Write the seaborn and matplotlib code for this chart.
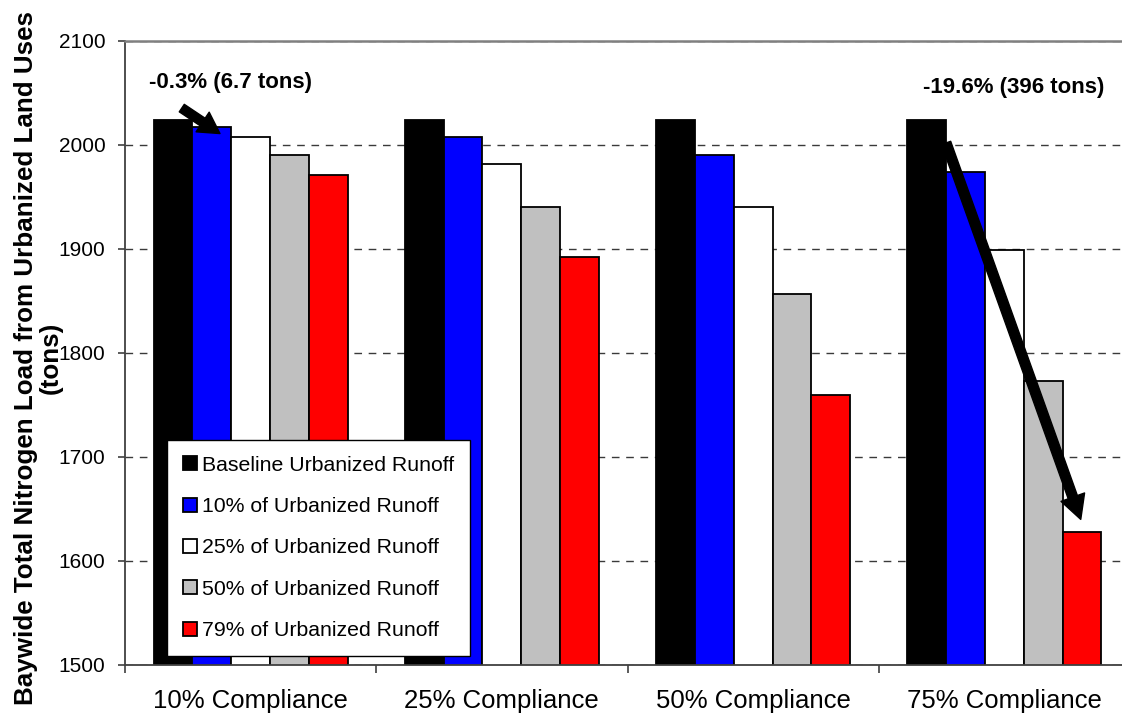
import matplotlib
matplotlib.use("Agg")
import matplotlib.pyplot as plt
import numpy as np
import pandas as pd
import seaborn as sns

# Baywide total nitrogen load (tons) under each runoff-treatment scenario
compliance = ["10% Compliance", "25% Compliance", "50% Compliance", "75% Compliance"]
scenarios = [
    "Baseline Urbanized Runoff",
    "10% of Urbanized Runoff",
    "25% of Urbanized Runoff",
    "50% of Urbanized Runoff",
    "79% of Urbanized Runoff",
]
baseline = [2024.0, 2024.0, 2024.0, 2024.0]
runoff_10 = [2017.3, 2007.3, 1990.6, 1973.9]
runoff_25 = [2007.3, 1982.2, 1940.4, 1898.7]
runoff_50 = [1990.6, 1940.4, 1856.9, 1773.3]
runoff_79 = [1971.2, 1892.0, 1760.0, 1628.0]
y_ticks = [1500, 1600, 1700, 1800, 1900, 2000, 2100]

bar_colors = ["#000000", "#0000FF", "#FFFFFF", "#C0C0C0", "#FF0000"]

series = [baseline, runoff_10, runoff_25, runoff_50, runoff_79]
df = pd.DataFrame(
    [(c, s, v) for s, vals in zip(scenarios, series) for c, v in zip(compliance, vals)],
    columns=["compliance", "scenario", "load"],
)

sns.set_style("white")
plt.rcParams["font.family"] = ["Liberation Sans", "DejaVu Sans"]
plt.rcParams.update({
    "text.color": "black",
    "axes.labelcolor": "black",
    "xtick.color": "black",
    "ytick.color": "black",
})

fig = plt.figure(figsize=(11.22, 7.19), dpi=100)
ax = fig.add_axes([125 / 1122, 1 - 665 / 719, 1005 / 1122, 624 / 719])

sns.barplot(
    data=df, x="compliance", y="load", hue="scenario",
    order=compliance, hue_order=scenarios, palette=bar_colors,
    saturation=1, width=0.772, edgecolor="black", linewidth=1.3,
    errorbar=None, ax=ax, zorder=2,
)

ax.set_ylim(1500, 2100)
ax.set_xlim(-0.5, 3.5)
ax.set_yticks(y_ticks)
ax.set_xlabel("")
ax.set_ylabel("")

# dashed horizontal gridlines behind the bars
ax.yaxis.grid(True, linestyle=(0, (5.5, 4.8)), color="#3a3a3a", linewidth=1.0)
ax.xaxis.grid(False)
ax.set_axisbelow(True)

for side in ("left", "bottom"):
    ax.spines[side].set_color("#404040")
    ax.spines[side].set_linewidth(1.3)
ax.spines["top"].set_color("#808080")
ax.spines["top"].set_linewidth(1.8)
ax.spines["right"].set_color("#808080")
ax.spines["right"].set_linewidth(1.8)

ax.tick_params(axis="y", direction="out", length=5, width=1.2, color="#404040",
               left=True, labelsize=15, pad=9, labelcolor="black")
ax.tick_params(axis="x", which="major", length=0, labelsize=18.5, pad=17,
               labelcolor="black")
ax.set_xticks(np.arange(-0.5, 3.6, 1.0), minor=True)
ax.tick_params(axis="x", which="minor", direction="out", length=6, width=1.2,
               color="#404040", bottom=True)

# legend box in the lower-left of the plot
leg = ax.legend(
    loc="lower left", bbox_to_anchor=(0.0418, 0.0144), fontsize=15.3,
    frameon=True, fancybox=False, framealpha=1, edgecolor="black",
    handlelength=0.65, handleheight=0.65, handletextpad=0.25,
    labelspacing=1.05, borderpad=0.75, borderaxespad=0,
)
leg.get_frame().set_linewidth(1.0)
for t in leg.get_texts():
    t.set_color("black")

# y-axis title
fig.text(38 / 1122, 1 - 358 / 719,
         "Baywide Total Nitrogen Load from Urbanized Land Uses\n(tons)",
         rotation=90, ha="center", va="center", multialignment="center",
         fontsize=18.7, fontweight="bold", linespacing=1.05, color="black")

# change labels computed from the plotted values
d_small = baseline[0] - runoff_10[0]
d_large = baseline[3] - runoff_79[3]
label_small = f"-{d_small / baseline[0] * 100:.1f}% ({d_small:.1f} tons)"
label_large = f"-{d_large / baseline[3] * 100:.1f}% ({d_large:.0f} tons)"

ax.text(-0.082, 2060, label_small, ha="center", va="center",
        fontsize=16, fontweight="bold", color="black", zorder=5)
ax.text(3.039, 2055, label_large, ha="center", va="center",
        fontsize=16, fontweight="bold", color="black", zorder=5)

ax.annotate("", xy=(-0.122, 2011), xytext=(-0.274, 2035.5),
            arrowprops=dict(width=6.5, headwidth=17, headlength=15,
                            color="black", shrink=0),
            zorder=6)
ax.annotate("", xy=(3.304, 1640), xytext=(2.768, 2002),
            arrowprops=dict(width=7.0, headwidth=18, headlength=17,
                            color="black", shrink=0),
            zorder=6)

fig.savefig("out.png", dpi=100)
